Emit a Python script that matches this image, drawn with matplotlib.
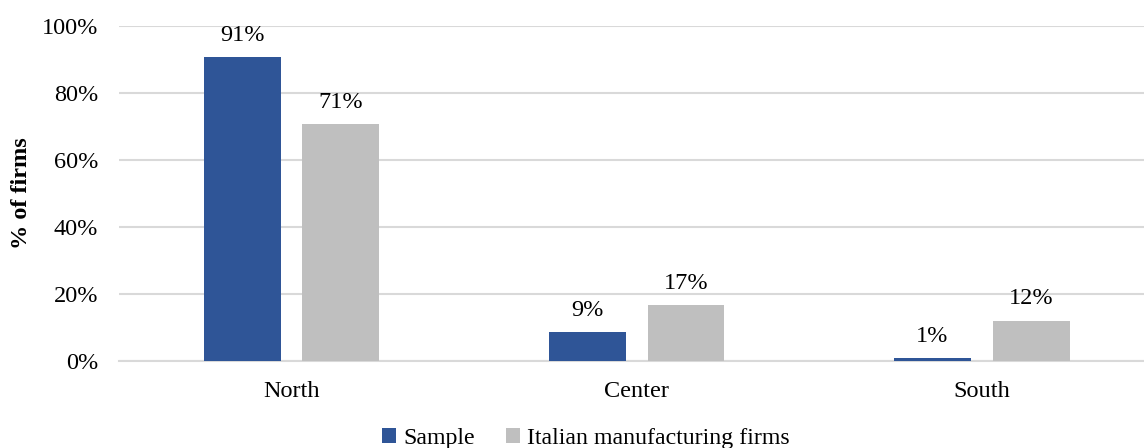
import matplotlib.pyplot as plt
import numpy as np

regions = ["North", "Center", "South"]
sample = [90.6, 8.6, 0.8]
italian = [70.7, 16.6, 12.1]
series_names = ["Sample", "Italian manufacturing firms"]
y_ticks = [0, 20, 40, 60, 80, 100]

plt.rcParams['font.family'] = ['Liberation Serif', 'DejaVu Serif']
fs = 17.5

fig = plt.figure(figsize=(11.44, 4.48), dpi=100)
ax = fig.add_axes([0.104, 0.194, 0.896, 0.748])

x = np.arange(len(regions))
w = 0.223
off = 0.143
b1 = ax.bar(x - off, sample, w, color="#2F5597", label=series_names[0], zorder=3)
b2 = ax.bar(x + off, italian, w, color="#BFBFBF", label=series_names[1], zorder=3)
ax.bar_label(b1, labels=[f"{v:.0f}%" for v in sample], padding=8, fontsize=fs)
ax.bar_label(b2, labels=[f"{v:.0f}%" for v in italian], padding=8, fontsize=fs)

ax.set_xlim(-0.5, 2.47)
ax.set_ylim(0, 100)
ax.set_yticks(y_ticks)
ax.set_yticklabels([f"{t}%" for t in y_ticks], fontsize=fs)
ax.set_xticks(x)
ax.set_xticklabels(regions, fontsize=fs)
ax.tick_params(length=0)
ax.tick_params(axis='y', pad=15)
ax.tick_params(axis='x', pad=14)
ax.yaxis.grid(True, color="#D9D9D9", linewidth=1.5, zorder=0)
for s in ["top", "right", "left"]:
    ax.spines[s].set_visible(False)
ax.spines["bottom"].set_color("#D9D9D9")
ax.spines["bottom"].set_linewidth(1.5)
ax.set_ylabel("% of firms", fontsize=fs, fontweight="bold", labelpad=7)

fig.legend(loc="lower center", bbox_to_anchor=(0.512, -0.05), ncol=2, frameon=False,
           fontsize=17.2, handlelength=0.6, handleheight=0.6, handletextpad=0.3, columnspacing=1.3)

plt.savefig("out.png", dpi=100)
